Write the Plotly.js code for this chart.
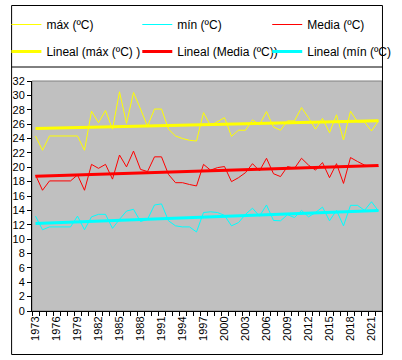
<!DOCTYPE html>
<html>
<head>
<meta charset="utf-8">
<script src="https://cdn.plot.ly/plotly-3.0.1.min.js"></script>
<style>html,body{margin:0;padding:0;background:#fff;}#chart{width:402px;height:360px;}</style>
</head>
<body>
<div id="chart"></div>
<script>
var years = [];
for (var y = 1973; y <= 2022; y++) years.push(y);

var maxT = [24.35,22.36,24.35,24.35,24.35,24.35,24.35,22.36,27.8,26.2,
            27.9,25.3,30.5,26.1,30.4,28.1,25.7,28.1,28.1,25.3,
            24.35,24.0,23.75,23.65,27.6,25.8,26.3,26.9,24.3,25.15,
            25.15,26.6,25.9,27.75,25.6,25.15,26.45,26.45,28.3,26.9,
            25.3,26.8,24.8,27.3,23.8,27.8,26.3,26.3,25.05,26.45];
var mediaT = [18.93,16.8,18.1,18.1,18.1,18.1,18.93,16.8,20.4,19.85,
              20.4,18.35,21.7,20.05,22.25,19.7,19.4,21.45,21.45,19.0,
              17.85,17.85,17.6,17.4,20.4,19.6,19.95,20.1,18.0,18.55,
              19.25,20.5,19.5,21.25,19.1,18.7,20.1,19.85,21.25,20.3,
              19.6,20.65,18.55,20.5,17.75,21.35,20.8,20.3,20.1,20.1];
var minT = [13.2,11.3,11.7,11.7,11.7,11.7,13.2,11.3,13.1,13.45,
            13.45,11.5,12.75,13.9,14.15,12.45,12.75,14.75,14.9,12.55,
            11.85,11.7,11.7,11.0,13.7,13.8,13.7,13.3,11.85,12.3,
            13.45,14.3,13.2,14.75,12.6,12.55,13.4,13.0,14.0,13.1,
            13.7,14.45,12.55,14.0,11.85,14.7,14.7,14.0,15.2,13.9];
var tickYears = [1973,1976,1979,1982,1985,1988,1991,1994,1997,2000,2003,2006,2009,2012,2015,2018,2021];

function linfit(xs, ys) {
  var n = xs.length, sx = 0, sy = 0, sxx = 0, sxy = 0;
  for (var i = 0; i < n; i++) { sx += xs[i]; sy += ys[i]; sxx += xs[i]*xs[i]; sxy += xs[i]*ys[i]; }
  var b = (n*sxy - sx*sy) / (n*sxx - sx*sx);
  var a = (sy - b*sx) / n;
  return xs.map(function (x) { return a + b*x; });
}

var YEL = '#FFFF00', CY = '#00FFFF', RED = '#FF0000';
var traces = [
  {x: years, y: linfit(years, maxT), name: 'Lineal (máx (ºC) )', type: 'scatter', mode: 'lines', line: {color: YEL, width: 3}, legend: 'legend', legendgroup: 'g2', legendrank: 2},
  {x: years, y: linfit(years, mediaT), name: 'Lineal (Media (ºC))', type: 'scatter', mode: 'lines', line: {color: RED, width: 3}, legend: 'legend2', legendgroup: 'g2', legendrank: 2},
  {x: years, y: linfit(years, minT), name: 'Lineal (mín (ºC)', type: 'scatter', mode: 'lines', line: {color: CY, width: 3}, legend: 'legend3', legendgroup: 'g2', legendrank: 2},
  {x: years, y: maxT, name: 'máx (ºC)', type: 'scatter', mode: 'lines', line: {color: YEL, width: 1}, legend: 'legend', legendgroup: 'g1', legendrank: 1},
  {x: years, y: minT, name: 'mín (ºC)', type: 'scatter', mode: 'lines', line: {color: CY, width: 1}, legend: 'legend2', legendgroup: 'g1', legendrank: 1},
  {x: years, y: mediaT, name: 'Media (ºC)', type: 'scatter', mode: 'lines', line: {color: RED, width: 1}, legend: 'legend3', legendgroup: 'g1', legendrank: 1}
];

var L = 27, R = 6, T = 81, B = 49;
var W = 402 - L - R, H = 360 - T - B;
function px(xp) { return (xp - L) / W; }
function py(yp) { return (360 - B - yp) / H; }

var font = {family: 'Liberation Sans, Arial, sans-serif', size: 11, color: '#000'};
var legBase = {orientation: 'v', xanchor: 'left', yanchor: 'top', bgcolor: 'rgba(0,0,0,0)', borderwidth: 0,
               traceorder: 'grouped', tracegroupgap: 8,
               font: {family: 'Liberation Sans, Arial, sans-serif', size: 12, color: '#000'},
               itemclick: false, y: py(10)};

var layout = {
  width: 402, height: 360,
  margin: {l: L, r: R, t: T, b: B, pad: 0},
  paper_bgcolor: '#FFFFFF',
  plot_bgcolor: '#C0C0C0',
  font: font,
  showlegend: true,
  legend: Object.assign({}, legBase, {x: px(0)}),
  legend2: Object.assign({}, legBase, {x: px(138)}),
  legend3: Object.assign({}, legBase, {x: px(275)}),
  xaxis: {
    type: 'linear', range: [1972.5, 2022.5], fixedrange: true,
    tickmode: 'array', tickvals: tickYears, ticktext: tickYears.map(String),
    tickangle: -90, ticks: '', showgrid: false, zeroline: false,
    showline: true, linecolor: '#000', linewidth: 1,
    tickfont: font,
    minor: {tickmode: 'linear', tick0: 1972.5, dtick: 1, ticks: 'outside', ticklen: 4, tickcolor: '#000', tickwidth: 1, showgrid: false}
  },
  yaxis: {
    range: [0, 32], dtick: 2, tick0: 0, fixedrange: true,
    ticks: 'outside', ticklen: 4, tickcolor: '#000', showgrid: false, zeroline: false,
    showline: true, linecolor: '#000', linewidth: 1, tickfont: font
  },
  shapes: [
    {type: 'rect', xref: 'paper', yref: 'paper', x0: 0, x1: 1, y0: 0, y1: 1, line: {color: '#808080', width: 1}, layer: 'below'},
    {type: 'rect', xref: 'paper', yref: 'paper', x0: px(5.5), x1: px(396.5), y0: py(354.5), y1: py(5.5), line: {color: '#000', width: 1}},
    {type: 'line', xref: 'paper', yref: 'paper', x0: px(5.5), x1: px(396.5), y0: py(67), y1: py(67), line: {color: '#000', width: 1}}
  ]
};

Plotly.newPlot('chart', traces, layout, {staticPlot: true, displayModeBar: false});
</script>
</body>
</html>
